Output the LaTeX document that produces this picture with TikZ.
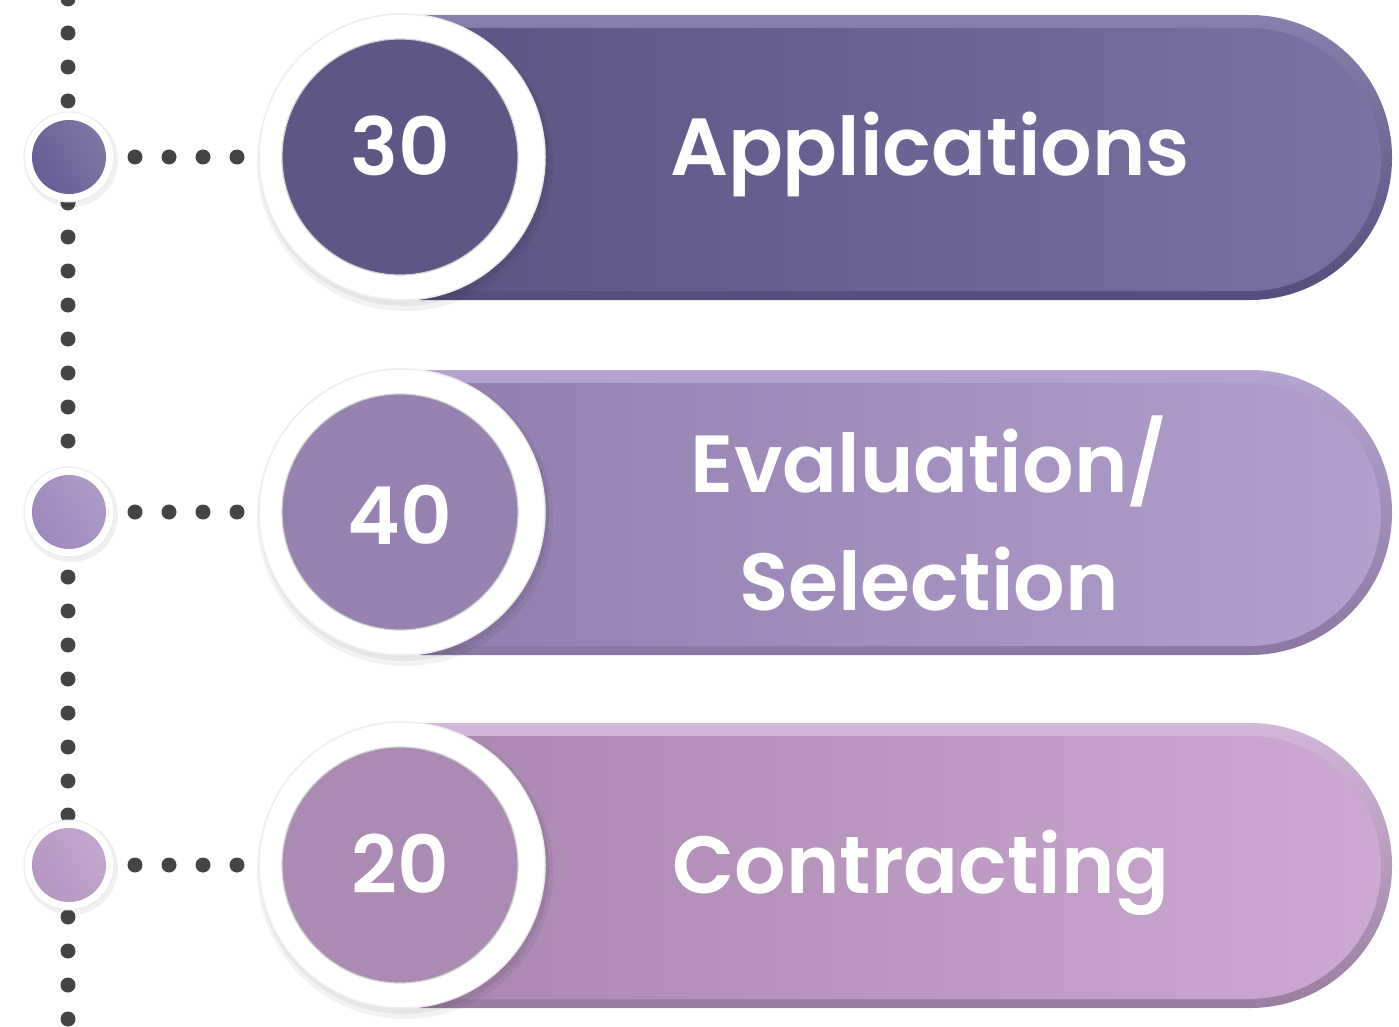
\documentclass[tikz,border=0pt]{standalone}
\usepackage{fontspec}
\setmainfont{Poppins}[BoldFont={Poppins SemiBold}]
\definecolor{dotc}{HTML}{444444}
% row 1
\definecolor{circA}{HTML}{5E5684}
\definecolor{pinLA}{HTML}{5D5484}
\definecolor{pinRA}{HTML}{7B72A4}
\definecolor{ptopA}{HTML}{8A80AE}
\definecolor{rimA}{HTML}{574D7C}
\definecolor{smA}{HTML}{685D95}
% row 2
\definecolor{circB}{HTML}{9582B0}
\definecolor{pinLB}{HTML}{917EAF}
\definecolor{pinRB}{HTML}{B3A0CC}
\definecolor{ptopB}{HTML}{B6A4D0}
\definecolor{rimB}{HTML}{8A78A3}
\definecolor{smB}{HTML}{9E89BC}
% row 3
\definecolor{circC}{HTML}{AB8AB3}
\definecolor{pinLC}{HTML}{A987B0}
\definecolor{pinRC}{HTML}{CBA9D1}
\definecolor{ptopC}{HTML}{D3B7D9}
\definecolor{rimC}{HTML}{9A7EA1}
\definecolor{smC}{HTML}{B597C3}
\begin{document}
\begin{tikzpicture}[x=1pt,y=-1pt,
  dotline/.style={line width=15pt,draw=dotc,line cap=round,dash pattern=on 0pt off 34pt},
  bigring/.style={circle,fill=white,draw=black!7,line width=1.5pt,minimum size=286pt,inner sep=0pt},
  bigdisc/.style={circle,minimum size=236pt,inner sep=0pt,draw=black!18,line width=1.2pt},
  smring/.style={circle,fill=white,draw=black!8,line width=1pt,minimum size=90pt,inner sep=0pt},
  smdisc/.style={circle,minimum size=74pt,inner sep=0pt},
  numtxt/.style={text=white,font=\bfseries\fontsize{80}{84}\selectfont,anchor=base,inner sep=0pt},
  lbltxt/.style={text=white,font=\bfseries\fontsize{81}{100}\selectfont,anchor=base,inner sep=0pt}]
\useasboundingbox[fill=white] (0,0) rectangle (1399,1027);

% vertical dotted spine
\coordinate (vtop) at (68,-1);
\coordinate (vbot) at (68,1020);
\draw[dotline] (vtop) -- (vbot);

\foreach \r/\y in {A/157,B/512,C/865}{
  % horizontal dots
  \coordinate (hs\r) at (135,\y);
  \coordinate (he\r) at (238,\y);
  \draw[dotline] (hs\r) -- (he\r);
  % small node
  \fill[black,opacity=.06] (71,\y+3) circle[radius=47pt];
  \node[smring] (sr\r) at (69,\y) {};
  \node[smdisc,shading=axis,left color=sm\r,right color=sm\r!85!white,shading angle=120] (sd\r) at (69,\y) {};
  % pill
  \shade[top color=ptop\r,bottom color=rim\r]
    (420,\y-142) [rounded corners=142pt] -- (1392,\y-142) -- (1392,\y+143) [sharp corners] -- (420,\y+143) -- cycle;
  \shade[left color=pinL\r,right color=pinR\r]
    (420,\y-129) [rounded corners=132pt] -- (1381,\y-129) -- (1381,\y+134) [sharp corners] -- (420,\y+134) -- cycle;
  % big circle shadow
  \fill[black,opacity=.05] (405,\y+6) circle[radius=148pt];
  \fill[black,opacity=.05] (404,\y+4) circle[radius=145pt];
  \node[bigring] (br\r) at (402,\y) {};
  \node[bigdisc,fill=circ\r] (bd\r) at (400,\y) {};
}

\node[numtxt] (n1) at (400,176) {30};
\node[numtxt] (n2) at (400,544) {40};
\node[numtxt] (n3) at (400,893) {20};

\node[lbltxt] (l1) at (930,176) {Applications};
\node[lbltxt] (l2a) at (929,492) {Evaluation/};
\node[lbltxt] (l2b) at (929,610) {Selection};
\node[lbltxt] (l3) at (921,893) {Contracting};
\end{tikzpicture}
\end{document}
